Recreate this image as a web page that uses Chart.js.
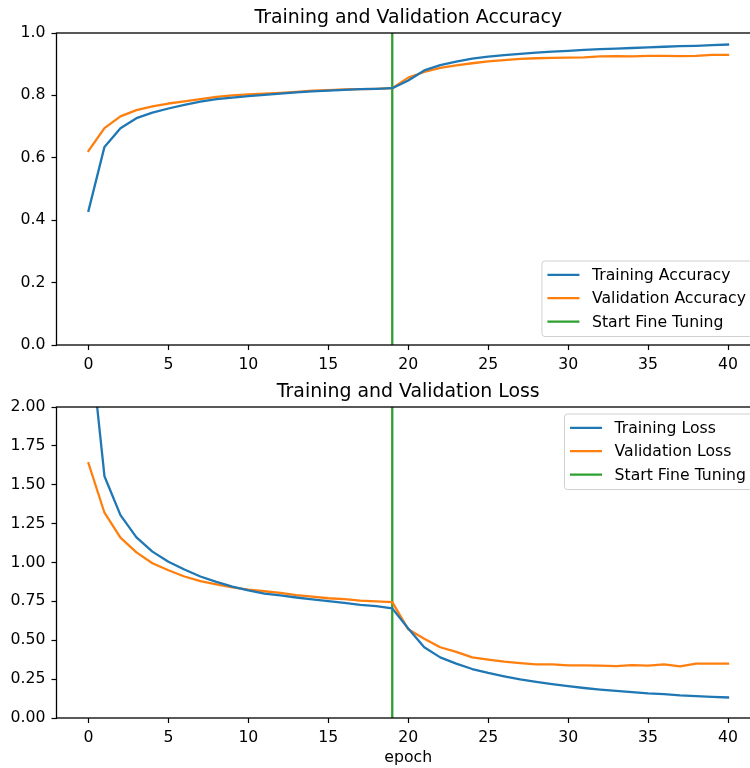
<!DOCTYPE html>
<html>
<head>
<meta charset="utf-8">
<script src="https://cdn.jsdelivr.net/npm/chart.js@4.4.0/dist/chart.umd.min.js"></script>
<style>
  html, body { margin: 0; padding: 0; background: #fff; overflow: hidden; width: 750px; height: 768px; }
  canvas { position: absolute; left: 0; }
  #accChart { top: 0; }
  #lossChart { top: 375px; }
</style>
</head>
<body>
<canvas id="accChart" width="762" height="380"></canvas>
<canvas id="lossChart" width="762" height="393"></canvas>
<script>
// Data
var epochs = [0, 1, 2, 3, 4, 5, 6, 7, 8, 9, 10, 11, 12, 13, 14, 15, 16, 17, 18, 19, 20,
  21, 22, 23, 24, 25, 26, 27, 28, 29, 30, 31, 32, 33, 34, 35, 36, 37, 38, 39, 40];

var trainAcc = [0.43, 0.635, 0.695, 0.727, 0.745, 0.758, 0.77, 0.78, 0.788, 0.793, 0.798,
  0.802, 0.806, 0.81, 0.813, 0.815, 0.818, 0.82, 0.821, 0.823, 0.848,
  0.88, 0.897, 0.908, 0.918, 0.924, 0.929, 0.933, 0.937, 0.94, 0.943,
  0.946, 0.948, 0.95, 0.952, 0.954, 0.956, 0.958, 0.959, 0.961, 0.963];
var valAcc = [0.622, 0.695, 0.733, 0.753, 0.765, 0.774, 0.781, 0.788, 0.795, 0.8, 0.803,
  0.806, 0.808, 0.811, 0.815, 0.817, 0.819, 0.82, 0.821, 0.823, 0.857,
  0.875, 0.888, 0.896, 0.903, 0.909, 0.913, 0.917, 0.919, 0.92, 0.921,
  0.922, 0.925, 0.926, 0.925, 0.927, 0.927, 0.926, 0.927, 0.93, 0.93];

var trainLoss = [2.53, 1.555, 1.305, 1.162, 1.07, 1.005, 0.955, 0.91, 0.875, 0.845, 0.82,
  0.8, 0.788, 0.775, 0.763, 0.752, 0.74, 0.727, 0.72, 0.705, 0.575,
  0.455, 0.39, 0.35, 0.315, 0.29, 0.268, 0.248, 0.232, 0.218, 0.205,
  0.193, 0.183, 0.175, 0.166, 0.158, 0.154, 0.146, 0.141, 0.136, 0.132];
var valLoss = [1.638, 1.32, 1.16, 1.065, 0.995, 0.95, 0.91, 0.88, 0.86, 0.84, 0.825,
  0.815, 0.805, 0.79, 0.78, 0.77, 0.765, 0.755, 0.75, 0.745, 0.57,
  0.51, 0.455, 0.425, 0.39, 0.375, 0.362, 0.353, 0.345, 0.345, 0.338,
  0.338, 0.337, 0.333, 0.34, 0.337, 0.345, 0.332, 0.35, 0.35, 0.35];

// vertical "Start Fine Tuning" marker
var fineX = [19, 19];
var accFineY = [0, 1];
var lossFineY = [0, 2];

// tick labels
var xTicks = [0, 5, 10, 15, 20, 25, 30, 35, 40];
var accTicks = [0, 0.2, 0.4, 0.6, 0.8, 1.0];
var lossTicks = [0, 0.25, 0.5, 0.75, 1.0, 1.25, 1.5, 1.75, 2.0];

var FONT = "'DejaVu Sans', sans-serif";
var TICK_SIZE = 15.7;
var BLUE = "#1f77b4", ORANGE = "#ff7f0e", GREEN = "#2ca02c";

function zip(xs, ys) {
  return xs.map(function (x, i) { return { x: x, y: ys[i] }; });
}

function lineSet(label, data, color) {
  return {
    label: label,
    data: data,
    borderColor: color,
    backgroundColor: color,
    borderWidth: 2.3,
    pointRadius: 0,
    tension: 0,
    borderCapStyle: "square",
    borderJoinStyle: "round",
    clip: 0,
  };
}

// matplotlib-like frame, title and legend box
var framePlugin = {
  id: "frame",
  afterDraw: function (chart, args, opts) {
    var ctx = chart.ctx, a = chart.chartArea;
    ctx.save();
    ctx.strokeStyle = "#000";
    ctx.lineWidth = 1.3;
    ctx.strokeRect(a.left, a.top, a.right - a.left, a.bottom - a.top);

    // title
    ctx.fillStyle = "#000";
    ctx.font = "18.9px " + FONT;
    ctx.textAlign = "center";
    ctx.textBaseline = "middle";
    ctx.fillText(opts.title, (a.left + a.right) / 2, a.top - 15);

    // legend
    ctx.font = TICK_SIZE + "px " + FONT;
    var items = chart.data.datasets;
    var maxW = 0;
    items.forEach(function (d) { maxW = Math.max(maxW, ctx.measureText(d.label).width); });
    var boxW = 50 + maxW + 6.5, boxH = 75.5;
    var right = a.right - 7.5;
    var left = right - boxW;
    var top = opts.legendPos === "lower" ? a.bottom - 8.5 - boxH : a.top + 7;
    ctx.beginPath();
    ctx.roundRect(left, top, boxW, boxH, 3);
    ctx.fillStyle = "rgba(255,255,255,0.8)";
    ctx.fill();
    ctx.strokeStyle = "#d0d0d0";
    ctx.lineWidth = 1;
    ctx.stroke();
    ctx.textAlign = "left";
    items.forEach(function (d, i) {
      var y = top + 13.8 + i * 23.4;
      ctx.strokeStyle = d.borderColor;
      ctx.lineWidth = 2.3;
      ctx.beginPath();
      ctx.moveTo(left + 5.5, y);
      ctx.lineTo(left + 37.5, y);
      ctx.stroke();
      ctx.fillStyle = "#000";
      ctx.fillText(d.label, left + 50, y + 1);
    });
    ctx.restore();
  },
};

function axisOptions(min, max, tickVals, digits, size) {
  return {
    type: "linear",
    min: min,
    max: max,
    border: { display: false },
    grid: { drawOnChartArea: false, drawTicks: true, tickLength: 5, tickColor: "#000", tickWidth: 1.2 },
    ticks: {
      color: "#000",
      font: { family: FONT, size: TICK_SIZE },
      padding: 6,
      callback: function (v) { return Number(v).toFixed(digits); },
    },
    afterBuildTicks: function (scale) {
      scale.ticks = tickVals.map(function (v) { return { value: v }; });
    },
    afterFit: function (scale) {
      if (size.w) scale.width = size.w;
      if (size.h) scale.height = size.h;
    },
  };
}

function makeChart(id, train, val, fineY, yMin, yMax, yTickVals, digits, names, opts) {
  var ctx = document.getElementById(id).getContext("2d");
  var xAxis = axisOptions(-2, 42, xTicks, 0, { h: opts.xHeight });
  if (opts.xTitle) {
    xAxis.title = { display: true, text: opts.xTitle, color: "#000", font: { family: FONT, size: TICK_SIZE }, padding: { top: 0, bottom: 1 } };
  }
  return new Chart(ctx, {
    type: "line",
    data: {
      datasets: [
        lineSet(names[0], zip(epochs, train), BLUE),
        lineSet(names[1], zip(epochs, val), ORANGE),
        lineSet("Start Fine Tuning", zip(fineX, fineY), GREEN),
      ],
    },
    options: {
      responsive: false,
      animation: false,
      events: [],
      layout: { padding: { top: opts.padTop, left: 0, right: 2, bottom: 0 } },
      plugins: {
        legend: { display: false },
        tooltip: { enabled: false },
        frame: { title: opts.title, legendPos: opts.legendPos },
      },
      scales: {
        x: xAxis,
        y: axisOptions(yMin, yMax, yTickVals, digits, { w: 56.5 }),
      },
    },
    plugins: [framePlugin],
  });
}

makeChart("accChart", trainAcc, valAcc, accFineY, 0, 1, accTicks, 1,
  ["Training Accuracy", "Validation Accuracy"],
  { title: "Training and Validation Accuracy", legendPos: "lower", padTop: 33, xHeight: 35 });

makeChart("lossChart", trainLoss, valLoss, lossFineY, 0, 2, lossTicks, 2,
  ["Training Loss", "Validation Loss"],
  { title: "Training and Validation Loss", legendPos: "upper", padTop: 32, xHeight: 50, xTitle: "epoch" });
</script>
</body>
</html>
